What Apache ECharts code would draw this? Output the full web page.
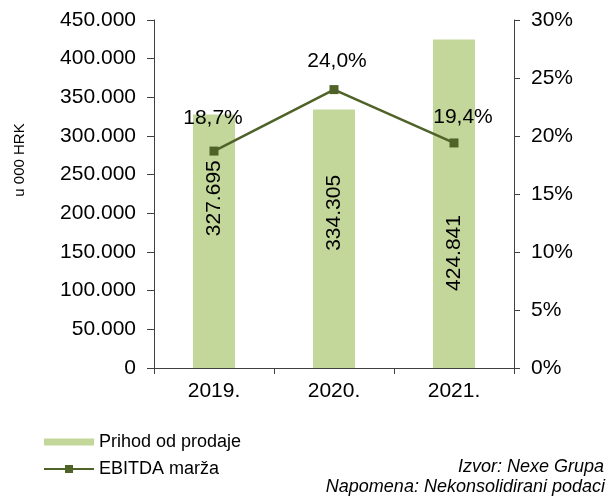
<!DOCTYPE html>
<html>
<head>
<meta charset="utf-8">
<script src="https://cdn.jsdelivr.net/npm/echarts@6/dist/echarts.min.js"></script>
<style>
html,body{margin:0;padding:0;background:#fff;}
#chart{width:608px;height:503px;}
</style>
</head>
<body>
<div id="chart"></div>
<script>
// ---- data ----
const categories = ['2019.', '2020.', '2021.'];
const revenue = [327695, 334305, 424841];
const ebitdaMargin = [18.7, 24.0, 19.4];
const leftTicks = { min: 0, max: 450000, interval: 50000 };
const rightTicks = { min: 0, max: 30, interval: 5 };
const seriesNames = ['Prihod od prodaje', 'EBITDA marža'];
const axisName = 'u 000 HRK';
const notes = ['Izvor: Nexe Grupa', 'Napomena: Nekonsolidirani podaci'];

// ---- styles ----
const FONT = "'Liberation Sans', Arial, sans-serif";
const barColor = '#c4d79b';
const lineColor = '#4f6228';
const axisColor = '#404040';
const barLabelPos = ['33%', '40%', '65%'];
const lineLabelOffset = [[-1, -6], [3, -1], [9, 1]];

function thousands(v) {
  return String(Math.round(v)).replace(/\B(?=(\d{3})+(?!\d))/g, '.');
}

const chart = echarts.init(document.getElementById('chart'), null, { renderer: 'canvas' });

const option = {
  animation: false,
  backgroundColor: '#fff',
  textStyle: { fontFamily: FONT },
  grid: { left: 154, right: 94, top: 20, bottom: 135, containLabel: false, outerBoundsMode: 'none' },
  legend: {
    orient: 'vertical',
    left: 43,
    top: 433,
    padding: 0,
    itemWidth: 50,
    itemHeight: 10,
    itemGap: 9,
    selectedMode: false,
    textStyle: { fontFamily: FONT, fontSize: 18, color: '#000' },
    data: [
      { name: seriesNames[0], icon: 'path://M0,0L0,0M0,10L0,10M0,1.5h50v7h-50z' },
      { name: seriesNames[1] }
    ]
  },
  xAxis: {
    type: 'category',
    data: categories,
    boundaryGap: true,
    axisLine: { lineStyle: { color: axisColor, width: 1 } },
    axisTick: { show: true, length: 6, alignWithLabel: false, lineStyle: { color: axisColor } },
    axisLabel: { color: '#000', fontSize: 21, fontFamily: FONT, margin: 13 }
  },
  yAxis: [
    {
      type: 'value',
      min: leftTicks.min, max: leftTicks.max, interval: leftTicks.interval,
      axisLine: { show: true, lineStyle: { color: axisColor, width: 1 } },
      axisTick: { show: true, length: 7, lineStyle: { color: axisColor } },
      splitLine: { show: false },
      axisLabel: { color: '#000', fontSize: 21, fontFamily: FONT, margin: 18, formatter: v => thousands(v) }
    },
    {
      type: 'value',
      position: 'right',
      min: rightTicks.min, max: rightTicks.max, interval: rightTicks.interval,
      axisLine: { show: true, lineStyle: { color: axisColor, width: 1 } },
      axisTick: { show: true, length: 6, lineStyle: { color: axisColor } },
      splitLine: { show: false },
      axisLabel: { color: '#000', fontSize: 21, fontFamily: FONT, margin: 17, formatter: v => v + '%' }
    }
  ],
  series: [
    {
      name: seriesNames[0],
      type: 'bar',
      yAxisIndex: 0,
      barWidth: '35%',
      itemStyle: { color: barColor },
      data: revenue.map((v, i) => ({
        value: v,
        label: {
          show: true,
          position: ['50%', barLabelPos[i]],
          align: 'center',
          verticalAlign: 'middle',
          rotate: 90,
          fontSize: 21,
          fontFamily: FONT,
          color: '#000',
          formatter: p => thousands(p.value)
        }
      }))
    },
    {
      name: seriesNames[1],
      type: 'line',
      yAxisIndex: 1,
      z: 5,
      symbol: 'rect',
      symbolSize: 9,
      lineStyle: { color: lineColor, width: 2.5 },
      itemStyle: { color: lineColor },
      data: ebitdaMargin.map((v, i) => ({
        value: v,
        label: {
          show: true,
          position: 'top',
          distance: 12,
          offset: lineLabelOffset[i],
          fontSize: 21,
          fontFamily: FONT,
          color: '#000',
          formatter: p => p.value.toFixed(1).replace('.', ',') + '%'
        }
      }))
    }
  ],
  graphic: [
    {
      type: 'text',
      x: 20, y: 160,
      rotation: Math.PI / 2,
      style: { text: axisName, font: '15px ' + FONT, fill: '#000', align: 'center', verticalAlign: 'middle' }
    },
    {
      type: 'text',
      x: 604, y: 467,
      style: { text: notes[0], font: 'italic 18px ' + FONT, fill: '#000', align: 'right', verticalAlign: 'middle' }
    },
    {
      type: 'text',
      x: 605, y: 487,
      style: { text: notes[1], font: 'italic 18px ' + FONT, fill: '#000', align: 'right', verticalAlign: 'middle' }
    }
  ]
};

chart.setOption(option);
</script>
</body>
</html>
